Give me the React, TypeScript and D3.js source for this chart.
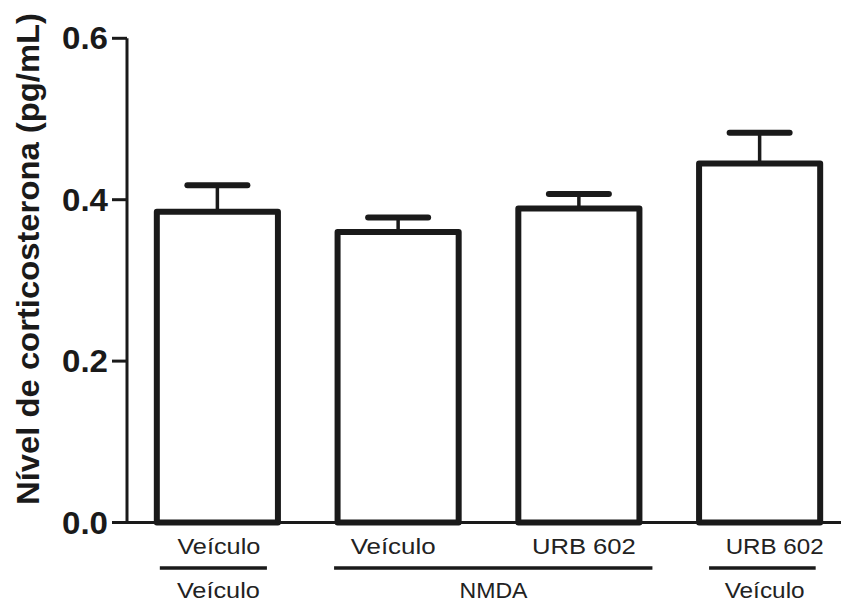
import React from "react";
import * as d3 from "d3";

// ---- data ----
const categories = ["Veículo | Veículo", "NMDA | Veículo", "NMDA | URB 602", "Veículo | URB 602"];
const treatmentLabels = ["Veículo", "Veículo", "URB 602", "URB 602"];
const means = [0.385, 0.36, 0.389, 0.445];
const sems = [0.033, 0.018, 0.018, 0.038];
const groupLabels = ["Veículo", "NMDA", "Veículo"];
const groupStart = [0, 1, 3];
const groupEnd = [0, 2, 3];
const yTicks = [0, 0.2, 0.4, 0.6];
const yTitle = "Nível de corticosterona (pg/mL)";

// ---- layout (style constants) ----
const W = 841;
const H = 602;
const axisX = 127;
const ink = "#1a1a1a";
const font = "Arial, 'Liberation Sans', Helvetica, sans-serif";
const row1Nudge = [1.5, -5, 5, 15];
const row1Len = [83, 85, 104, 98];
const row2Nudge = [1, 5, 5];
const row2Len = [83, 68, 80];
const lineNudge: [number, number][] = [
  [3, -11],
  [-3.5, 13],
  [10, -4.5],
];

export default function App() {
  const y = d3.scaleLinear().domain([0, 0.6]).range([522.5, 38.3]);
  const x = d3
    .scaleBand<string>()
    .domain(categories)
    .range([axisX, 850])
    .paddingInner(0.33)
    .paddingOuter(0.165);
  const bw = x.bandwidth();
  const capHalf = 30;

  return (
    <svg
      width={W}
      height={H}
      style={{ position: "absolute", left: 0, top: 0, background: "#fff" }}
    >
      <rect x={0} y={0} width={W} height={H} fill="#fff" />
      {/* y title */}
      <text
        transform={`translate(39,259) rotate(-90)`}
        textAnchor="middle"
        fontFamily={font}
        fontWeight="bold"
        fontSize={32}
        fill={ink}
        textLength={492}
        lengthAdjust="spacingAndGlyphs"
      >
        {yTitle}
      </text>

      {/* bars */}
      {categories.map((c, i) => {
        const x0 = x(c)!;
        const cx = x0 + bw / 2;
        const top = y(means[i]);
        const errTop = y(means[i] + sems[i]);
        return (
          <g key={c}>
            <line x1={cx} x2={cx} y1={top} y2={errTop} stroke={ink} strokeWidth={3.5} />
            <line
              x1={cx - capHalf}
              x2={cx + capHalf}
              y1={errTop}
              y2={errTop}
              stroke={ink}
              strokeWidth={6}
              strokeLinecap="round"
            />
            <rect
              x={x0}
              y={top}
              width={bw}
              height={y(0) - top}
              fill="#fff"
              stroke={ink}
              strokeWidth={6}
              strokeLinejoin="round"
            />
          </g>
        );
      })}

      {/* y axis */}
      <line x1={axisX} x2={axisX} y1={y(0.6)} y2={y(0)} stroke={ink} strokeWidth={3} />
      {yTicks.map((t) => (
        <g key={t}>
          <line x1={112} x2={axisX} y1={y(t)} y2={y(t)} stroke={ink} strokeWidth={3} />
          <text
            x={108}
            y={y(t)}
            dy="0.36em"
            textAnchor="end"
            fontFamily={font}
            fontWeight="bold"
            fontSize={31}
            fill={ink}
            textLength={46}
            lengthAdjust="spacingAndGlyphs"
          >
            {d3.format(".1f")(t)}
          </text>
        </g>
      ))}
      {/* x axis */}
      <line x1={112} x2={W} y1={y(0)} y2={y(0)} stroke={ink} strokeWidth={3} />

      {/* row 1 labels */}
      {categories.map((c, i) => (
        <text
          key={"r1" + c}
          x={x(c)! + bw / 2 + row1Nudge[i]}
          y={554}
          textAnchor="middle"
          fontFamily={font}
          fontSize={22}
          fill="#222"
          textLength={row1Len[i]}
          lengthAdjust="spacingAndGlyphs"
        >
          {treatmentLabels[i]}
        </text>
      ))}

      {/* group lines + row 2 labels */}
      {groupLabels.map((g, gi) => {
        const a = x(categories[groupStart[gi]])!;
        const b = x(categories[groupEnd[gi]])! + bw;
        const x1 = a + lineNudge[gi][0];
        const x2 = b + lineNudge[gi][1];
        return (
          <g key={"g" + gi}>
            <line x1={x1} x2={x2} y1={568} y2={568} stroke={ink} strokeWidth={3.5} />
            <text
              x={(a + b) / 2 + row2Nudge[gi]}
              y={597.5}
              textAnchor="middle"
              fontFamily={font}
              fontSize={22}
              fill="#222"
              textLength={row2Len[gi]}
              lengthAdjust="spacingAndGlyphs"
            >
              {g}
            </text>
          </g>
        );
      })}
    </svg>
  );
}
